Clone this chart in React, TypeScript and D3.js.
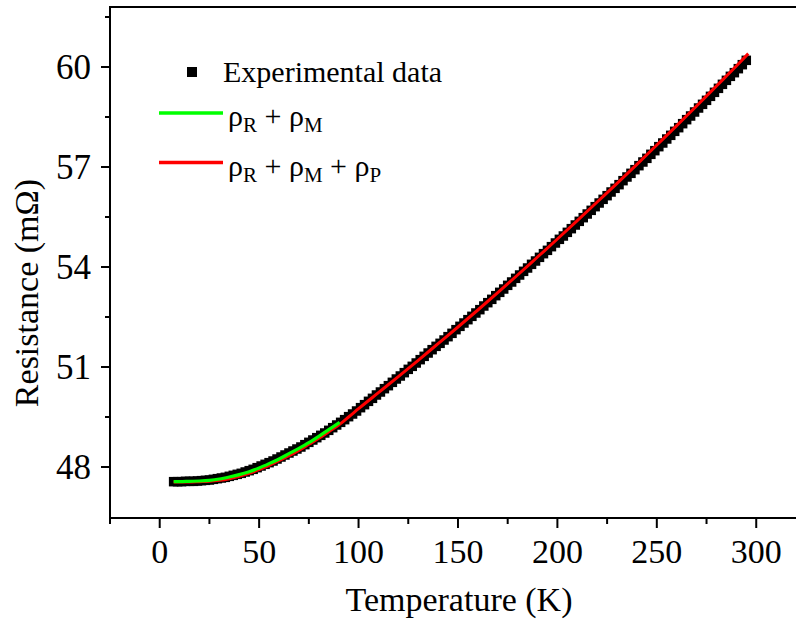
import React from "react";
import * as d3 from "d3";

// Experimental data: [Temperature (K), Resistance (mΩ)]
const expData: [number, number][] = [
  [7, 47.56], [9, 47.56], [11, 47.56], [13, 47.57], [15, 47.57], [17, 47.57], [19, 47.58],
  [21, 47.59], [23, 47.6], [25, 47.61], [27, 47.63], [29, 47.65], [31, 47.67], [33, 47.69],
  [35, 47.72], [37, 47.75], [39, 47.78], [41, 47.81], [43, 47.85], [45, 47.89], [47, 47.93],
  [49, 47.98], [51, 48.03], [53, 48.08], [55, 48.13], [57, 48.18], [59, 48.24], [61, 48.3],
  [63, 48.36], [65, 48.42], [67, 48.48], [69, 48.54], [71, 48.6], [73, 48.67], [75, 48.74],
  [77, 48.81], [79, 48.88], [81, 48.95], [83, 49.02], [85, 49.1], [87, 49.18], [89, 49.26],
  [91, 49.34], [93, 49.42], [95, 49.51], [97, 49.59], [99, 49.68], [101, 49.78], [103, 49.87],
  [105, 49.97], [107, 50.06], [109, 50.16], [111, 50.25], [113, 50.35], [115, 50.44], [117, 50.54],
  [119, 50.64], [121, 50.73], [123, 50.83], [125, 50.93], [127, 51.02], [129, 51.12], [131, 51.22],
  [133, 51.32], [135, 51.42], [137, 51.52], [139, 51.62], [141, 51.71], [143, 51.81], [145, 51.91],
  [147, 52.01], [149, 52.12], [151, 52.22], [153, 52.32], [155, 52.42], [157, 52.52], [159, 52.62],
  [161, 52.72], [163, 52.83], [165, 52.93], [167, 53.03], [169, 53.14], [171, 53.24], [173, 53.34],
  [175, 53.45], [177, 53.55], [179, 53.66], [181, 53.76], [183, 53.87], [185, 53.97], [187, 54.08],
  [189, 54.18], [191, 54.29], [193, 54.4], [195, 54.5], [197, 54.61], [199, 54.72], [201, 54.83],
  [203, 54.93], [205, 55.04], [207, 55.15], [209, 55.26], [211, 55.37], [213, 55.48], [215, 55.59],
  [217, 55.7], [219, 55.81], [221, 55.92], [223, 56.03], [225, 56.14], [227, 56.25], [229, 56.36],
  [231, 56.47], [233, 56.59], [235, 56.7], [237, 56.81], [239, 56.92], [241, 57.04], [243, 57.15],
  [245, 57.26], [247, 57.38], [249, 57.49], [251, 57.61], [253, 57.72], [255, 57.84], [257, 57.95],
  [259, 58.07], [261, 58.18], [263, 58.3], [265, 58.42], [267, 58.53], [269, 58.65], [271, 58.77],
  [273, 58.88], [275, 59.0], [277, 59.12], [279, 59.24], [281, 59.36], [283, 59.48], [285, 59.6],
  [287, 59.72], [289, 59.83], [291, 59.95], [293, 60.07], [295, 60.2],
];

// Fit ρR + ρM (green)
const fitMagnon: [number, number][] = [
  [7, 47.56], [10, 47.56], [15, 47.57], [20, 47.58], [25, 47.6], [30, 47.64], [35, 47.7],
  [40, 47.77], [45, 47.86], [50, 47.97], [55, 48.1], [60, 48.24], [65, 48.4], [70, 48.56],
  [75, 48.73], [80, 48.92], [85, 49.12], [90.5, 49.34],
];

// Fit ρR + ρM + ρP (red)
const fitFull: [number, number][] = [
  [7, 47.55], [10, 47.55], [15, 47.55], [20, 47.56], [25, 47.57], [30, 47.6], [35, 47.65],
  [40, 47.72], [45, 47.81], [50, 47.92], [55, 48.05], [60, 48.19], [65, 48.34], [70, 48.5],
  [75, 48.68], [80, 48.86], [85, 49.06], [90, 49.26], [95, 49.5], [100, 49.75], [110, 50.23],
  [120, 50.71], [130, 51.2], [140, 51.7], [150, 52.2], [160, 52.71], [170, 53.23], [180, 53.76],
  [190, 54.3], [200, 54.84], [210, 55.39], [220, 55.95], [230, 56.51], [240, 57.08], [250, 57.66],
  [260, 58.24], [270, 58.83], [280, 59.43], [290, 60.03], [296, 60.4],
];

const xTicks = [0, 50, 100, 150, 200, 250, 300];
const xMinorTicks = [-25, 25, 75, 125, 175, 225, 275];
const yTicks = [48, 51, 54, 57, 60];
const yMinorTicks = [49.5, 52.5, 55.5, 58.5, 61.5];

const xDomain: [number, number] = [-25, 320];
const yDomain: [number, number] = [46.47, 61.8];

const FONT = "'Liberation Serif', 'Times New Roman', Times, serif";

export default function App() {
  const W = 796;
  const H = 633;
  const left = 110;
  const right = 796;
  const top = 7;
  const bottom = 518;

  const x = d3.scaleLinear().domain(xDomain).range([left, right]);
  const y = d3.scaleLinear().domain(yDomain).range([bottom, top]);

  const line = d3
    .line<[number, number]>()
    .x((d) => x(d[0]))
    .y((d) => y(d[1]))
    .curve(d3.curveMonotoneX);

  const sq = 9.5;

  return (
    <svg
      width={W}
      height={H}
      style={{ position: "absolute", left: 0, top: 0, background: "#fff" }}
      fontFamily={FONT}
    >
      <rect x={0} y={0} width={W} height={H} fill="#fff" />
      {/* data squares */}
      <g fill="#000">
        {expData.map((d, i) => (
          <rect key={i} x={x(d[0]) - sq / 2} y={y(d[1]) - sq / 2} width={sq} height={sq} />
        ))}
      </g>
      <path d={line(fitFull) || ""} fill="none" stroke="#ff0000" strokeWidth={3} />
      <path d={line(fitMagnon) || ""} fill="none" stroke="#00ff00" strokeWidth={3.2} />

      {/* axes frame */}
      <line x1={left} y1={top} x2={left} y2={bottom} stroke="#000" strokeWidth={2} />
      <line x1={left - 1} y1={bottom} x2={right} y2={bottom} stroke="#000" strokeWidth={2} />
      <line x1={left - 1} y1={top} x2={right} y2={top} stroke="#000" strokeWidth={2} />

      {/* x ticks */}
      {xTicks.map((t) => (
        <g key={"xt" + t}>
          <line x1={x(t)} x2={x(t)} y1={bottom} y2={bottom + 10} stroke="#000" strokeWidth={2} />
          <text x={x(t)} y={563} textAnchor="middle" fontSize={34} fill="#000">
            {t}
          </text>
        </g>
      ))}
      {xMinorTicks.map((t) => (
        <line key={"xm" + t} x1={x(t)} x2={x(t)} y1={bottom} y2={bottom + 6} stroke="#000" strokeWidth={2} />
      ))}

      {/* y ticks */}
      {yTicks.map((t) => (
        <g key={"yt" + t}>
          <line x1={left - 9} x2={left} y1={y(t)} y2={y(t)} stroke="#000" strokeWidth={2} />
          <text x={91} y={y(t)} dy="0.35em" textAnchor="end" fontSize={35} fill="#000">
            {t}
          </text>
        </g>
      ))}
      {yMinorTicks.map((t) => (
        <line key={"ym" + t} x1={left - 5} x2={left} y1={y(t)} y2={y(t)} stroke="#000" strokeWidth={2} />
      ))}

      {/* axis titles */}
      <text x={459} y={611} textAnchor="middle" fontSize={34} fill="#000">
        Temperature (K)
      </text>
      <text
        transform={`translate(38, 293) rotate(-90)`}
        textAnchor="middle"
        fontSize={34}
        fill="#000"
      >
        Resistance (mΩ)
      </text>

      {/* legend */}
      <rect x={187} y={67} width={10} height={10} fill="#000" />
      <text x={223} y={82} fontSize={30} fill="#000">
        Experimental data
      </text>
      <line x1={159} x2={223} y1={113} y2={113} stroke="#00ff00" strokeWidth={3.5} />
      <text x={228} y={126} fontSize={30} fill="#000">
        <tspan>ρ</tspan>
        <tspan fontSize={21} dy={6}>R</tspan>
        <tspan dy={-6}> + ρ</tspan>
        <tspan fontSize={21} dy={6}>M</tspan>
      </text>
      <line x1={159} x2={223} y1={162.5} y2={162.5} stroke="#ff0000" strokeWidth={3.5} />
      <text x={228} y={176} fontSize={30} fill="#000">
        <tspan>ρ</tspan>
        <tspan fontSize={21} dy={6}>R</tspan>
        <tspan dy={-6}> + ρ</tspan>
        <tspan fontSize={21} dy={6}>M</tspan>
        <tspan dy={-6}> + ρ</tspan>
        <tspan fontSize={21} dy={6}>P</tspan>
      </text>
    </svg>
  );
}
